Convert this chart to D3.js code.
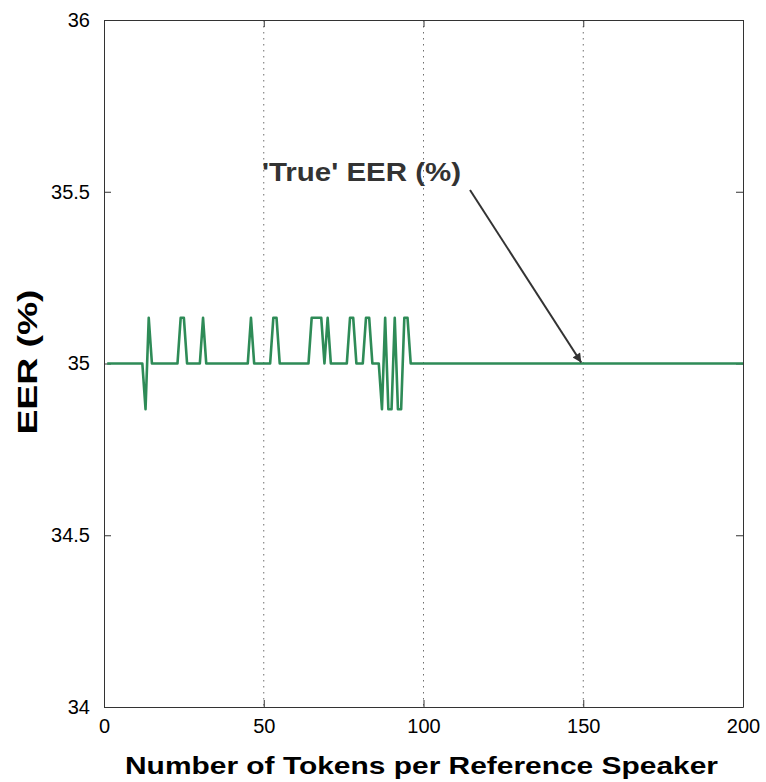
<!DOCTYPE html>
<html>
<head>
<meta charset="utf-8">
<script src="https://cdn.jsdelivr.net/npm/d3@7"></script>
<style>
  body { margin: 0; background: #fff; }
  text { font-family: "Liberation Sans", Arial, sans-serif; }
</style>
</head>
<body>
<div id="chart"></div>
<script>
// breakpoints of the EER curve (tokens per reference speaker, EER %)
var tokens = [1, 12, 13, 14, 15, 23, 24, 25, 26, 30, 31, 32, 45, 46, 47, 52, 53, 54, 55,
              64, 65, 66, 67, 68, 69, 70, 71, 76, 77, 78, 79, 81, 82, 83, 84,
              86, 87, 88, 89, 90, 91, 92, 93, 94, 95, 96, 200];
var eer = [35, 35, 34.867, 35.133, 35, 35, 35.133, 35.133, 35, 35, 35.133, 35, 35, 35.133, 35, 35, 35.133, 35.133, 35,
           35, 35.133, 35.133, 35.133, 35.133, 35, 35.133, 35, 35, 35.133, 35.133, 35, 35, 35.133, 35.133, 35,
           35, 34.867, 35.133, 34.867, 34.867, 35.133, 34.867, 34.867, 35.133, 35.133, 35, 35];

var xTicks = [0, 50, 100, 150, 200];
var yTicks = [34, 34.5, 35, 35.5, 36];
var gridX = [50, 100, 150];

var annoText = "'True' EER (%)";
var annoPoint = { x: 150, y: 35 };

var margin = { left: 104, right: 23, top: 20, bottom: 75 };
var width = 766 - margin.left - margin.right,
    height = 782 - margin.top - margin.bottom;

var svg = d3.select("#chart")
    .append("svg")
        .attr("width", 766)
        .attr("height", 782)
        .append("g")
          .attr("transform", "translate(" + margin.left + "," + margin.top + ")");

var x = d3.scaleLinear().domain([0, 200]).range([0, width]);
var y = d3.scaleLinear().domain([34, 36]).range([height, 0]);

// dotted vertical grid
svg.selectAll(".grid")
    .data(gridX)
    .enter().append("line")
        .attr("x1", function(d) { return x(d); })
        .attr("x2", function(d) { return x(d); })
        .attr("y1", 0)
        .attr("y2", height)
        .attr("stroke", "#6e6e6e")
        .attr("stroke-width", 1)
        .attr("stroke-dasharray", "1.5,4.5");

// axes (ticks inside, box style)
var tl = 7;
svg.append("g")
    .attr("transform", "translate(0," + height + ")")
    .call(d3.axisBottom(x).tickValues(xTicks).tickSizeInner(-tl).tickSizeOuter(0).tickPadding(tl + 5));
svg.append("g")
    .call(d3.axisTop(x).tickValues(xTicks).tickSizeInner(-tl).tickSizeOuter(0).tickFormat(""));
svg.append("g")
    .call(d3.axisLeft(y).tickValues(yTicks).tickSizeInner(-tl).tickSizeOuter(0).tickPadding(tl + 7)
        .tickFormat(function(d) { return d; }));
svg.append("g")
    .attr("transform", "translate(" + width + ",0)")
    .call(d3.axisRight(y).tickValues(yTicks).tickSizeInner(-tl).tickSizeOuter(0).tickFormat(""));

svg.selectAll(".domain").attr("stroke", "#333");
svg.selectAll(".tick line").attr("stroke", "#333");
svg.selectAll(".tick text")
    .attr("fill", "#000")
    .attr("font-size", "20px")
    .attr("font-family", "DejaVu Sans, sans-serif");

// EER line
var valueline = d3.line()
    .x(function(d, i) { return x(tokens[i]); })
    .y(function(d) { return y(d); });

svg.append("path")
    .datum(eer)
    .attr("fill", "none")
    .attr("stroke", "#2e8b57")
    .attr("stroke-width", 2.6)
    .attr("stroke-linejoin", "round")
    .attr("d", valueline);

// annotation arrow
svg.append("defs").append("marker")
    .attr("id", "head")
    .attr("viewBox", "0 0 10 10")
    .attr("refX", 10)
    .attr("refY", 5)
    .attr("markerWidth", 17)
    .attr("markerHeight", 9)
    .attr("markerUnits", "userSpaceOnUse")
    .attr("orient", "auto")
    .append("path")
        .attr("d", "M0,0 L10,5 L0,10 z")
        .attr("fill", "#333");

svg.append("line")
    .attr("x1", 366)
    .attr("y1", 170)
    .attr("x2", x(annoPoint.x) - 2)
    .attr("y2", y(annoPoint.y) - 1)
    .attr("stroke", "#333")
    .attr("stroke-width", 2)
    .attr("marker-end", "url(#head)");

svg.append("text")
    .attr("x", 158)
    .attr("y", 161)
    .attr("font-size", "25px")
    .attr("font-weight", "bold")
    .attr("fill", "#333")
    .attr("textLength", 199)
    .attr("lengthAdjust", "spacingAndGlyphs")
    .text(annoText);

// X Label
svg.append("text")
    .attr("x", (125 + 718) / 2 - margin.left)
    .attr("y", height + 67)
    .attr("font-size", "24px")
    .attr("font-weight", "bold")
    .attr("text-anchor", "middle")
    .attr("textLength", 593)
    .attr("lengthAdjust", "spacingAndGlyphs")
    .text("Number of Tokens per Reference Speaker");

// Y Label
svg.append("text")
    .attr("transform", "translate(" + (37 - margin.left) + "," + (362 - margin.top) + ") rotate(-90)")
    .attr("font-size", "27px")
    .attr("font-weight", "bold")
    .attr("text-anchor", "middle")
    .attr("textLength", 145)
    .attr("lengthAdjust", "spacingAndGlyphs")
    .text("EER (%)");
</script>
</body>
</html>
